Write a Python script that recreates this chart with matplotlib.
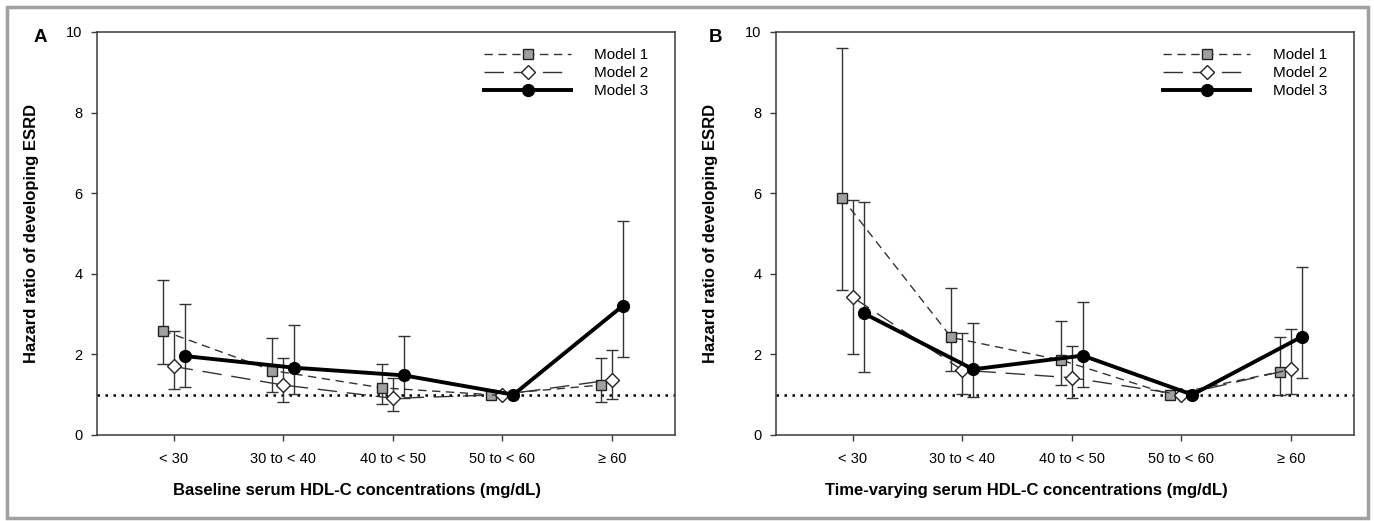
import numpy as np
import matplotlib
matplotlib.use("Agg")
import matplotlib.pyplot as plt
from matplotlib.patches import Rectangle

plt.rcParams["font.family"] = ["Liberation Sans", "DejaVu Sans"]

# ----------------------------
# DATA
# ----------------------------
CATEGORIES = ["< 30", "30 to < 40", "40 to < 50", "50 to < 60", "\u2265 60"]
MODELS = ["Model 1", "Model 2", "Model 3"]

# Panel A - baseline HDL-C
A_HR = [
    [2.59, 1.60, 1.17, 1.00, 1.24],
    [1.70, 1.24, 0.91, 1.00, 1.37],
    [1.96, 1.67, 1.48, 1.00, 3.21],
]
A_LO = [
    [1.75, 1.07, 0.77, np.nan, 0.83],
    [1.14, 0.83, 0.59, np.nan, 0.89],
    [1.19, 1.01, 0.91, np.nan, 1.94],
]
A_HI = [
    [3.84, 2.41, 1.77, np.nan, 1.90],
    [2.59, 1.92, 1.42, np.nan, 2.12],
    [3.26, 2.74, 2.46, np.nan, 5.31],
]

# Panel B - time-varying HDL-C
B_HR = [
    [5.89, 2.42, 1.86, 1.00, 1.57],
    [3.42, 1.61, 1.42, 1.00, 1.63],
    [3.02, 1.63, 1.97, 1.00, 2.44],
]
B_LO = [
    [3.60, 1.59, 1.23, np.nan, 0.99],
    [2.00, 1.02, 0.91, np.nan, 1.01],
    [1.57, 0.95, 1.18, np.nan, 1.42],
]
B_HI = [
    [9.60, 3.65, 2.83, np.nan, 2.44],
    [5.84, 2.54, 2.21, np.nan, 2.63],
    [5.77, 2.79, 3.30, np.nan, 4.17],
]

PANELS = [
    ("A", "Baseline serum HDL-C concentrations (mg/dL)", A_HR, A_LO, A_HI),
    ("B", "Time-varying serum HDL-C concentrations (mg/dL)", B_HR, B_LO, B_HI),
]

# ----------------------------
# STYLE
# ----------------------------
OFFSETS = [-0.1, 0.0, 0.1]
STYLES = [
    dict(color="#333333", lw=1.0, dashes=(6, 4), marker="s", ms=7.5,
         mfc="#a0a0a0", mec="#222222", mew=1.0),
    dict(color="#333333", lw=1.0, dashes=(14, 7), marker="D", ms=7.5,
         mfc="white", mec="#222222", mew=1.0),
    dict(color="black", lw=2.8, ls="-", marker="o", ms=8.5,
         mfc="black", mec="black", mew=1.0),
]
SPINE = "#3a3a3a"

fig = plt.figure(figsize=(13.74, 5.21), dpi=100)
fig.patches.append(Rectangle((7 / 1374, 3 / 521), 1361 / 1374, 511 / 521,
                             transform=fig.transFigure, fill=False,
                             edgecolor="#a0a0a0", lw=2.5))

lefts = [97 / 1374, 776 / 1374]
label_x = [40 / 1374, 716 / 1374]
xlabel_pos = [0.45, 0.434]
x = np.arange(1, len(CATEGORIES) + 1)

for (tag, xlabel, hr, lo, hi), left, lx, xlp in zip(PANELS, lefts, label_x, xlabel_pos):
    ax = fig.add_axes([left, 86 / 521, 578 / 1374, 403 / 521])

    ax.axhline(1.0, color="black", lw=1.8, ls=(0, (1, 2.2)), zorder=1)

    handles = []
    for i, st in enumerate(STYLES):
        y = np.array(hr[i])
        yerr = np.vstack([y - np.array(lo[i]), np.array(hi[i]) - y])
        ax.errorbar(x + OFFSETS[i], y, yerr=yerr, fmt="none", ecolor="#333333",
                    elinewidth=1.0, capsize=4.5, capthick=1.0, zorder=2)
        ln, = ax.plot(x + OFFSETS[i], y, zorder=3 + i, **st)
        handles.append(ln)

    ax.set_xlim(0.3, 5.575)
    ax.set_ylim(0, 10)
    ax.set_yticks([0, 2, 4, 6, 8, 10])
    ax.set_xticks(x)
    ax.set_xticklabels(CATEGORIES)
    ax.tick_params(axis="both", direction="out", length=4.3, width=1.0,
                   color=SPINE, labelsize=10.5)
    ax.tick_params(axis="x", pad=8)
    ax.tick_params(axis="y", pad=6)
    for s in ax.spines.values():
        s.set_color(SPINE)
        s.set_linewidth(1.1)

    ax.set_xlabel(xlabel, fontsize=12, fontweight="bold")
    ax.set_ylabel("Hazard ratio of developing ESRD", fontsize=12, fontweight="bold")
    ax.xaxis.set_label_coords(xlp, -0.12)
    ax.yaxis.set_label_coords(-0.1, 0.5)

    ax.legend(handles, MODELS, loc="upper left", bbox_to_anchor=(0.67, 0.96),
              frameon=False, fontsize=11, handlelength=5.7, handletextpad=1.5,
              labelspacing=0.26, borderpad=0, borderaxespad=0)

    fig.text(lx, 1 - 37 / 521, tag, fontsize=13.5, fontweight="bold",
             ha="center", va="center")

fig.savefig("out.png", dpi=100)
